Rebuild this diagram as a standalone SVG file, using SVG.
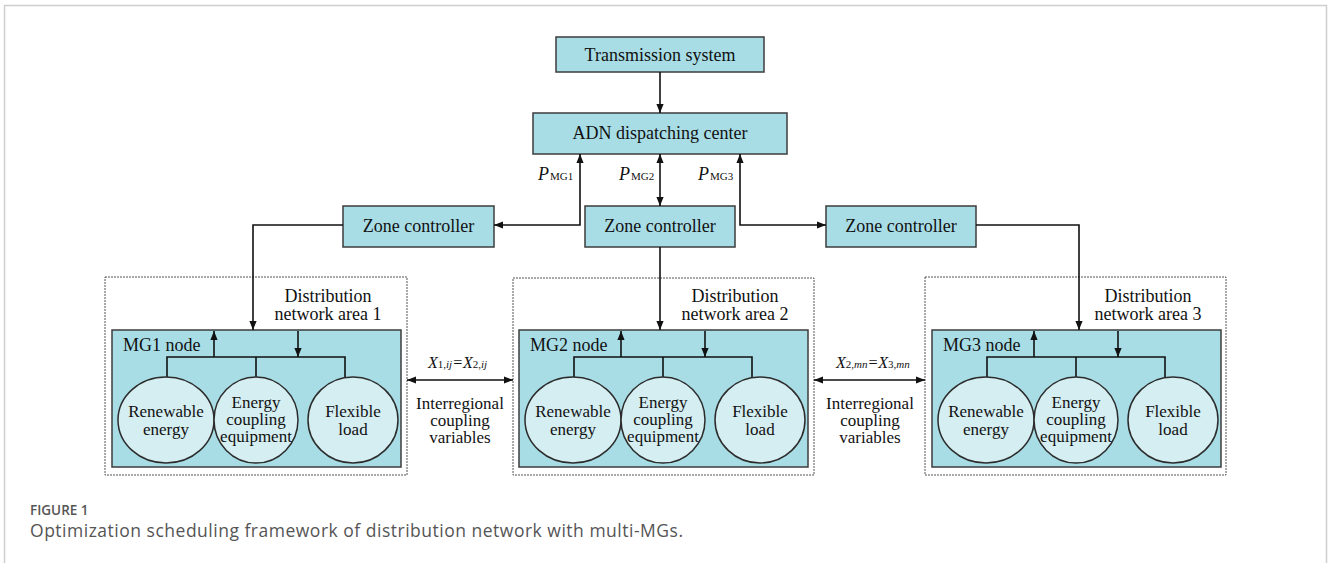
<svg xmlns="http://www.w3.org/2000/svg" width="1328" height="563" viewBox="0 0 1328 563">
  <style>
    .box { fill: #a8dde6; stroke: #3c3c3c; stroke-width: 1.5; }
    .circ { fill: #d5eef2; stroke: #2c2c2c; stroke-width: 1.5; }
    .area { fill: none; stroke: #555; stroke-width: 1; stroke-dasharray: 2 1; }
    .t { font-family: "Liberation Serif", "Times New Roman", serif; font-size: 18px; fill: #111; }
    .s { font-size: 17px; }
    .c { text-anchor: middle; }
    .it { font-style: italic; }
    .sub { font-size: 11px; font-style: normal; }
    .wire { fill: none; stroke: #111; stroke-width: 1.6; }
    .cap { font-family: "Open Sans", "Noto Sans", sans-serif; fill: #555; }
  </style>
  <defs>
    <marker id="arrow" viewBox="0 0 10 8" refX="10" refY="4" markerWidth="9" markerHeight="8" markerUnits="userSpaceOnUse" orient="auto-start-reverse">
      <path d="M0,0 L10,4 L0,8 z" fill="#111"/>
    </marker>
    <!-- one microgrid cell, drawn at the left-most position -->
    <g id="mg-cell">
      <rect class="box" x="112" y="330" width="289" height="137"/>
      <path class="wire" d="M167,377 V357 H345 V377 M256,357 V377"/>
      <path class="wire" d="M214,357 V331" marker-end="url(#arrow)"/>
      <path class="wire" d="M298,331 V357" marker-end="url(#arrow)"/>
      <ellipse class="circ" cx="166" cy="420" rx="48" ry="43"/>
      <ellipse class="circ" cx="256" cy="420" rx="42" ry="43"/>
      <ellipse class="circ" cx="353" cy="420" rx="45" ry="43"/>
      <text class="t s c" x="166" y="417">Renewable</text>
      <text class="t s c" x="166" y="435">energy</text>
      <text class="t s c" x="256" y="408">Energy</text>
      <text class="t s c" x="256" y="425">coupling</text>
      <text class="t s c" x="256" y="442">equipment</text>
      <text class="t s c" x="353" y="417">Flexible</text>
      <text class="t s c" x="353" y="435">load</text>
    </g>
  </defs>

  <!-- page frame -->
  <path d="M4.5,563 V5.5 H1326.5 V563" fill="none" stroke="#cfcfcf" stroke-width="1.5"/>

  <g id="transmission-system">
    <rect class="box" x="556" y="37" width="208" height="35"/>
    <text class="t c" x="660" y="61">Transmission system</text>
  </g>

  <g id="adn-center">
    <rect class="box" x="533" y="113" width="254" height="41"/>
    <text class="t c" x="660" y="139">ADN dispatching center</text>
  </g>

  <g id="zone-controller-1">
    <rect class="box" x="343" y="206" width="151" height="41"/>
    <text class="t c" x="418.5" y="232">Zone controller</text>
  </g>
  <g id="zone-controller-2">
    <rect class="box" x="585" y="206" width="150" height="41"/>
    <text class="t c" x="660" y="232">Zone controller</text>
  </g>
  <g id="zone-controller-3">
    <rect class="box" x="826" y="206" width="150" height="41"/>
    <text class="t c" x="901" y="232">Zone controller</text>
  </g>

  <g id="area-1">
    <rect class="area" x="105" y="277" width="302" height="198"/>
    <text class="t c" x="328" y="302">Distribution</text>
    <text class="t c" x="328" y="320">network area 1</text>
    <use href="#mg-cell"/>
    <text class="t" x="123" y="351">MG1 node</text>
  </g>
  <g id="area-2">
    <rect class="area" x="513" y="278" width="301" height="197"/>
    <text class="t c" x="735" y="302">Distribution</text>
    <text class="t c" x="735" y="320">network area 2</text>
    <use href="#mg-cell" transform="translate(407,0)"/>
    <text class="t" x="530" y="351">MG2 node</text>
  </g>
  <g id="area-3">
    <rect class="area" x="925" y="277" width="301" height="198"/>
    <text class="t c" x="1148" y="302">Distribution</text>
    <text class="t c" x="1148" y="320">network area 3</text>
    <use href="#mg-cell" transform="translate(820,0)"/>
    <text class="t" x="943" y="351">MG3 node</text>
  </g>

  <g id="connectors">
    <path class="wire" d="M660,72 V113" marker-end="url(#arrow)"/>
    <path class="wire" d="M494,225 H580 V154" marker-start="url(#arrow)" marker-end="url(#arrow)"/>
    <path class="wire" d="M660,154 V206" marker-start="url(#arrow)" marker-end="url(#arrow)"/>
    <path class="wire" d="M826,225 H740 V154" marker-start="url(#arrow)" marker-end="url(#arrow)"/>
    <path class="wire" d="M343,225 H253 V330" marker-end="url(#arrow)"/>
    <path class="wire" d="M660,247 V330" marker-end="url(#arrow)"/>
    <path class="wire" d="M976,225 H1079 V330" marker-end="url(#arrow)"/>
    <path class="wire" d="M407,380 H513" marker-start="url(#arrow)" marker-end="url(#arrow)"/>
    <path class="wire" d="M814,380 H925" marker-start="url(#arrow)" marker-end="url(#arrow)"/>
  </g>

  <g id="labels">
    <text class="t it" x="538" y="180">P<tspan class="sub" dx="1">MG1</tspan></text>
    <text class="t it" x="619" y="180">P<tspan class="sub" dx="1">MG2</tspan></text>
    <text class="t it" x="698" y="180">P<tspan class="sub" dx="1">MG3</tspan></text>

    <text class="t it" x="428" y="368" style="font-size:16px">X<tspan class="sub">1,<tspan class="it">ij</tspan></tspan>=X<tspan class="sub">2,<tspan class="it">ij</tspan></tspan></text>
    <text class="t s c" x="460" y="409">Interregional</text>
    <text class="t s c" x="460" y="426">coupling</text>
    <text class="t s c" x="460" y="443">variables</text>

    <text class="t it" x="836" y="368" style="font-size:16px">X<tspan class="sub">2,<tspan class="it">mn</tspan></tspan>=X<tspan class="sub">3,<tspan class="it">mn</tspan></tspan></text>
    <text class="t s c" x="870" y="409">Interregional</text>
    <text class="t s c" x="870" y="426">coupling</text>
    <text class="t s c" x="870" y="443">variables</text>
  </g>

  <g id="caption">
    <text class="cap" x="30" y="515" style="font-size:13.5px;font-weight:600">FIGURE 1</text>
    <text class="cap" x="30" y="537" style="font-size:17.5px" textLength="653" lengthAdjust="spacing">Optimization scheduling framework of distribution network with multi-MGs.</text>
  </g>
</svg>
